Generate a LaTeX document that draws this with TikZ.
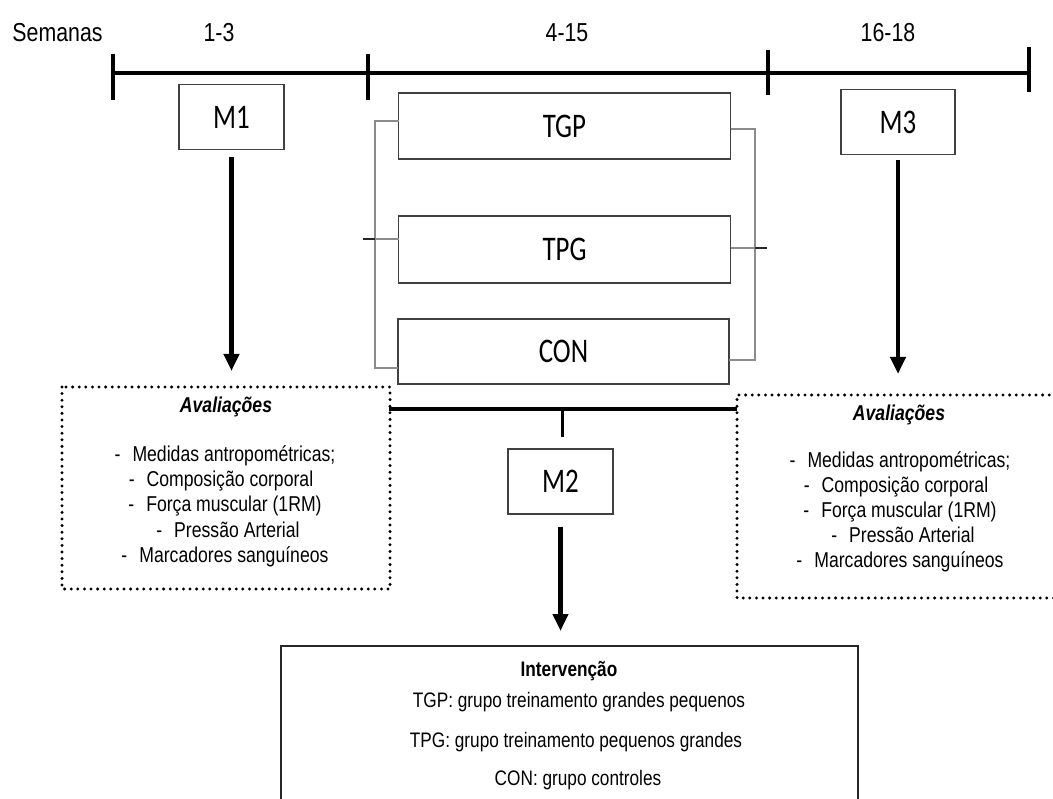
\documentclass[tikz,border=0pt]{standalone}
\usepackage{fontspec}
\setmainfont{Liberation Sans}[FakeStretch=0.82]
\newfontfamily\boxfont{Carlito}[FakeStretch=0.78]
\usetikzlibrary{arrows.meta}
\tikzset{
  mbox/.style={draw=black!75, line width=1.4pt, fill=white, inner sep=0pt, outer sep=0pt,
    font=\boxfont\fontsize{34.5}{40}\selectfont},
  wbox/.style={mbox, minimum width=105pt, minimum height=65pt},
  gbox/.style={mbox, minimum width=332pt, minimum height=66pt},
  dotbox/.style={line width=3.3pt, line cap=round, dash pattern=on 0pt off 6.6pt},
  tline/.style={line width=4pt},
  tick/.style={line width=3.5pt},
  bracket/.style={draw=black!45, line width=1.8pt},
  smalltick/.style={draw=black!85, line width=1.5pt},
  bigarrow/.style={line width=4.5pt, -{Triangle[length=17pt,width=15pt]}},
  tlabel/.style={anchor=base, inner sep=0pt, font=\fontsize{26}{30}\selectfont},
  evtext/.style={anchor=base, inner sep=0pt, font=\fontsize{21.5}{25}\selectfont},
  evtitle/.style={evtext, font=\fontsize{21.5}{25}\selectfont\bfseries\itshape},
  intext/.style={anchor=base, inner sep=0pt, font=\fontsize{21}{25}\selectfont},
  intitle/.style={intext, font=\fontsize{21}{25}\selectfont\bfseries}
}
\newcommand{\itm}[1]{-\hspace{12pt}#1}
\begin{document}
\begin{tikzpicture}[x=1pt,y=-1pt]
\useasboundingbox (0,0) rectangle (1053,799);
\clip (0,0) rectangle (1053,799);

% timeline
\coordinate (ta) at (113,73);
\coordinate (tb) at (368,73);
\coordinate (tc) at (768,73);
\coordinate (td) at (1029,73);
\draw[tline] (ta) -- (td);
\draw[tick] ([yshift=19pt]ta) -- ([yshift=-27pt]ta);
\draw[tick] ([yshift=19pt]tb) -- ([yshift=-27pt]tb);
\draw[tick] ([yshift=23pt]tc) -- ([yshift=-22pt]tc);
\draw[tick] ([yshift=26pt]td) -- ([yshift=-19pt]td);

\node[tlabel] (sem) at (57.5,42) {Semanas};
\node[tlabel] (w1) at (219,42) {1-3};
\node[tlabel] (w2) at (567,42) {4-15};
\node[tlabel] (w3) at (888,42) {16-18};

% group boxes
\node[gbox] (tgp) at (564.5,126) {TGP};
\node[gbox, minimum height=67pt] (tpg) at (564.5,249.5) {TPG};
\node[gbox, minimum width=331pt, minimum height=65pt] (con) at (563.5,351.5) {CON};

% brackets
\coordinate (bl) at (375,239);
\coordinate (br) at (755,248);
\coordinate (blt) at (375,121);
\coordinate (blb) at (375,368);
\coordinate (brt) at (755,129);
\coordinate (brb) at (755,360);
\draw[bracket] (tgp.west |- blt) -- (blt) -- (blb) -- (con.west |- blb);
\draw[bracket] (tpg.west |- bl) -- (bl);
\draw[smalltick] (bl) -- ([xshift=-12pt]bl);
\draw[bracket] (tgp.east |- brt) -- (brt) -- (brb) -- (con.east |- brb);
\draw[bracket] (tpg.east |- br) -- (br);
\draw[smalltick] (br) -- ([xshift=12pt]br);

% measurement boxes
\node[wbox] (m1) at (231.5,117) {M1};
\node[wbox, minimum width=114pt] (m3) at (898,122) {M3};
\node[wbox] (m2) at (560.5,481.5) {M2};

% evaluation boxes
\node[minimum width=328pt, minimum height=202pt, inner sep=0pt, outer sep=0pt] (evl) at (226,488) {};
\draw[dotbox] (evl.north west) rectangle (evl.south east);
\node[minimum width=332pt, minimum height=203pt, inner sep=0pt, outer sep=0pt] (evr) at (903,496.5) {};
\draw[dotbox] (evr.north east) -- (evr.north west) -- (evr.south west) -- (evr.south east);

\node[evtitle] (l0) at (226,413) {Avaliações};
\node[evtext] (l1) at (225,462) {\itm{Medidas antropométricas;}};
\node[evtext] (l2) at (221,487) {\itm{Composição corporal}};
\node[evtext] (l3) at (225,512) {\itm{Força muscular (1RM)}};
\node[evtext] (l4) at (228,537) {\itm{Pressão Arterial}};
\node[evtext] (l5) at (225,562) {\itm{Marcadores sanguíneos}};

\node[evtitle] (r0) at (899,421) {Avaliações};
\node[evtext] (r1) at (900,468) {\itm{Medidas antropométricas;}};
\node[evtext] (r2) at (896,493) {\itm{Composição corporal}};
\node[evtext] (r3) at (900,518) {\itm{Força muscular (1RM)}};
\node[evtext] (r4) at (903,543) {\itm{Pressão Arterial}};
\node[evtext] (r5) at (900,568) {\itm{Marcadores sanguíneos}};

% connector between evaluation boxes
\coordinate (hl) at (389,409);
\coordinate (hr) at (737,409);
\coordinate (hs) at (562,409);
\draw[tline] (hl) -- (hr);
\draw[line width=3pt, shorten >=12pt] (hs) -- (hs |- m2.north);

% intervention box
\node[minimum width=577pt, minimum height=160pt, inner sep=0pt, outer sep=0pt] (inv) at (569.5,726) {};
\draw[line width=1.5pt, draw=black!85] (inv.south west) -- (inv.north west) -- (inv.north east) -- (inv.south east);
\node[intitle] (i0) at (569,676) {Intervenção};
\node[intext] (i1) at (579,707) {TGP: grupo treinamento grandes pequenos};
\node[intext] (i2) at (576,747) {TPG: grupo treinamento pequenos grandes};
\node[intext] (i3) at (578,785) {CON: grupo controles};

% arrows
\draw[bigarrow, shorten <=8pt, shorten >=16pt] (m1.south) -- (m1.south |- evl.north);
\draw[bigarrow, shorten <=6pt, shorten >=21pt] (m3.south) -- (m3.south |- evr.north);
\draw[bigarrow, shorten <=13pt, shorten >=15pt] (m2.south) -- (m2.south |- inv.north);
\end{tikzpicture}
\end{document}
